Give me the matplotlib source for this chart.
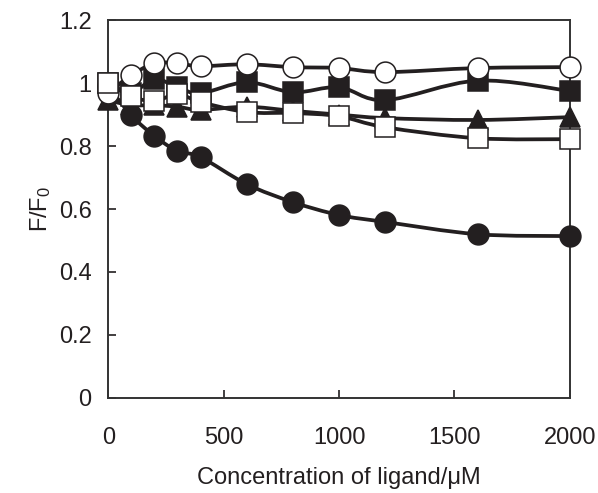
import numpy as np
import matplotlib.pyplot as plt
from matplotlib.path import Path
from matplotlib.patches import PathPatch

plt.rcParams['font.family'] = ['Liberation Sans', 'DejaVu Sans']
plt.rcParams['mathtext.fontset'] = 'custom'
plt.rcParams['mathtext.rm'] = 'Liberation Sans'
plt.rcParams['mathtext.it'] = 'Liberation Sans'

# ── Data ──────────────────────────────────────────────────────────────────────
conc = [0, 100, 200, 300, 400, 600, 800, 1000, 1200, 1600, 2000]

filled_circle   = [0.99, 0.898, 0.832, 0.784, 0.765, 0.679, 0.622, 0.581, 0.559, 0.520, 0.514]
filled_triangle = [0.945, 0.93, 0.93, 0.925, 0.915, 0.925, 0.912, 0.90, 0.889, 0.883, 0.892]
filled_square   = [1.0, 0.97, 1.013, 0.987, 0.968, 1.003, 0.971, 0.987, 0.946, 1.008, 0.975]
open_circle     = [0.97, 1.025, 1.063, 1.063, 1.054, 1.060, 1.051, 1.048, 1.035, 1.048, 1.051]
open_square     = [1.0, 0.958, 0.943, 0.965, 0.940, 0.908, 0.905, 0.895, 0.860, 0.825, 0.822]

ink = "#231f20"

fig = plt.figure(figsize=(5.98, 4.93), dpi=100)
ax = fig.add_axes([0.181, 0.193, 0.772, 0.766])


def smooth_line(x, y):
    # Excel-style smoothed line: cubic Bezier segments through each point
    x = np.asarray(x, float)
    y = np.asarray(y, float)
    n = len(x)
    verts = [(x[0], y[0])]
    codes = [Path.MOVETO]
    for i in range(n - 1):
        i0 = max(i - 1, 0)
        i3 = min(i + 2, n - 1)
        c1 = (x[i] + (x[i + 1] - x[i0]) / 6, y[i] + (y[i + 1] - y[i0]) / 6)
        c2 = (x[i + 1] - (x[i3] - x[i]) / 6, y[i + 1] - (y[i3] - y[i]) / 6)
        verts += [c1, c2, (x[i + 1], y[i + 1])]
        codes += [Path.CURVE4] * 3
    return Path(verts, codes)


series = [
    (filled_circle, "o", ink, 15),
    (filled_triangle, "^", ink, 14),
    (filled_square, "s", ink, 14),
    (open_circle, "o", "white", 15),
    (open_square, "s", "white", 14),
]

for k, (vals, mk, face, ms) in enumerate(series):
    z = 2 + k * 2
    ax.add_patch(PathPatch(smooth_line(conc, vals), facecolor="none",
                           edgecolor=ink, linewidth=2.7, zorder=z))
    ax.plot(conc, vals, linestyle="none", marker=mk, markersize=ms,
            markerfacecolor=face, markeredgecolor=ink, markeredgewidth=1.1,
            zorder=z + 1, clip_on=False)

ax.set_xlim(0, 2000)
ax.set_ylim(0, 1.2)
ax.set_xticks([0, 500, 1000, 1500, 2000])
ax.set_yticks([0, 0.2, 0.4, 0.6, 0.8, 1.0, 1.2])
ax.set_yticklabels(["0", "0.2", "0.4", "0.6", "0.8", "1", "1.2"])
ax.tick_params(direction="in", length=6, width=1.2, colors=ink,
               labelsize=17, labelcolor=ink)
ax.tick_params(axis="x", pad=21)
ax.tick_params(axis="y", pad=12)
for sp in ax.spines.values():
    sp.set_linewidth(1.4)
    sp.set_color("#333333")

ax.set_xlabel("Concentration of ligand/μM", fontsize=17, color=ink, labelpad=13)
ax.set_ylabel("F/F$_0$", fontsize=17, color=ink, labelpad=4)

fig.savefig("out.png", dpi=100)
